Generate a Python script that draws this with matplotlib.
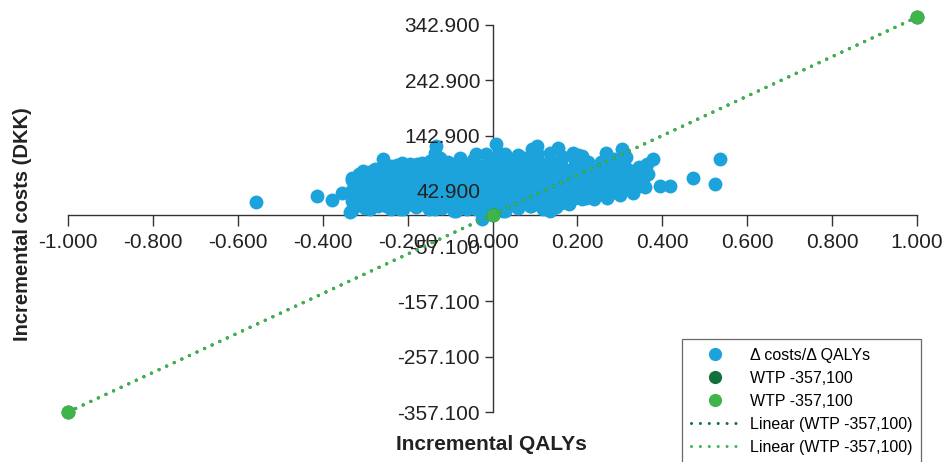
import matplotlib
matplotlib.use("Agg")
import matplotlib.pyplot as plt
from matplotlib.lines import Line2D

plt.rcParams["font.family"] = ["Liberation Sans", "DejaVu Sans"]

# incremental QALYs / incremental costs (thousand DKK)
qaly_left = [-0.557, -0.414, -0.379, -0.355, -0.336, -0.332, -0.306,
             -0.33, -0.33, -0.33, -0.33,
             -0.30, -0.30, -0.30, -0.30, -0.305,
             -0.27, -0.27, -0.27, -0.27, -0.277,
             -0.24, -0.24, -0.24, -0.24, -0.24, -0.258, -0.25, -0.289,
             -0.21, -0.21, -0.21, -0.21, -0.21, -0.214, -0.218,
             -0.18, -0.18, -0.18, -0.18, -0.179,
             -0.15, -0.15, -0.15, -0.15, -0.15, -0.148, -0.136, -0.134,
             -0.12, -0.12, -0.12, -0.12, -0.12, -0.124]
cost_left = [22.8, 33.6, 25.9, 39.6, 5.2, 66.7, 74.0,
             8, 25, 45, 62,
             12, 30, 50, 70, 79,
             15, 35, 55, 75, 82,
             10, 28, 48, 68, 88, 100, 15.6, 9.6,
             10, 28, 48, 68, 85, 94, 9.6,
             14, 32, 52, 72, 91,
             10, 28, 48, 66, 84, 97, 9.6, 124,
             12, 30, 50, 70, 88, 103]

qaly_mid = [-0.09, -0.09, -0.09, -0.09, -0.09, -0.085, -0.077,
            -0.06, -0.06, -0.06, -0.06, -0.06,
            -0.03, -0.03, -0.03, -0.03, -0.03, -0.038, -0.038, -0.024,
            0.0, 0.0, 0.0, 0.0, 0.0, 0.0, 0.008,
            0.03, 0.03, 0.03, 0.03, 0.03, 0.029, 0.025,
            0.06, 0.06, 0.06, 0.06, 0.06, 0.06,
            0.09, 0.09, 0.09, 0.09, 0.09, 0.088, 0.092,
            0.12, 0.12, 0.12, 0.12, 0.12, 0.104, 0.135]
cost_mid = [7, 25, 45, 65, 85, 6.5, 103,
            10, 28, 48, 68, 88,
            9, 27, 47, 67, 87, 109, 9.6, -7.4,
            2, 20, 40, 60, 80, 100, 127,
            7, 25, 45, 65, 85, 109, 6.5,
            12, 30, 50, 70, 90, 108,
            16, 34, 54, 74, 94, 15.6, 118,
            10, 28, 48, 68, 88, 124, 6.5]

qaly_right = [0.15, 0.15, 0.15, 0.15, 0.15, 0.155, 0.162,
              0.18, 0.18, 0.18, 0.18, 0.19,
              0.21, 0.21, 0.21, 0.21, 0.21, 0.202,
              0.24, 0.24, 0.24, 0.24, 0.225, 0.221,
              0.27, 0.27, 0.27, 0.27, 0.268,
              0.30, 0.30, 0.30, 0.30, 0.304,
              0.33, 0.33, 0.33, 0.331,
              0.36, 0.36, 0.363, 0.378, 0.347, 0.367,
              0.394, 0.418, 0.473, 0.524, 0.535]
cost_right = [14, 32, 52, 72, 92, 121, 21.5,
              20, 38, 58, 78, 112,
              28, 46, 66, 86, 106, 108,
              28, 46, 66, 86, 91, 30.6,
              30, 48, 68, 88, 112,
              35, 53, 73, 93, 118,
              45, 58, 78, 39.6,
              50, 70, 91, 100, 55, 73,
              52, 52, 66.7, 55, 100]

# the dense core between the columns above
qaly_core = [-0.315] * 4 + [-0.285] * 4 + [-0.255] * 5 + [-0.225] * 5 \
    + [-0.195] * 5 + [-0.165] * 5 + [-0.135] * 6 + [-0.105] * 5 \
    + [-0.075] * 5 + [-0.045] * 5 + [-0.015] * 6 + [0.015] * 6 \
    + [0.045] * 5 + [0.075] * 5 + [0.105] * 6 + [0.135] * 6 \
    + [0.165] * 5 + [0.195] * 5 + [0.225] * 4 + [0.255] * 4 \
    + [0.285] * 4 + [0.315] * 4 + [0.345] * 3
cost_core = [18, 38, 58, 74,
             22, 42, 62, 78,
             20, 40, 60, 80, 92,
             18, 38, 58, 78, 90,
             20, 40, 60, 80, 92,
             20, 40, 60, 80, 94,
             20, 40, 60, 78, 96, 112,
             18, 38, 58, 78, 96,
             16, 36, 56, 76, 94,
             18, 38, 58, 78, 98,
             10, 30, 50, 70, 90, 110,
             12, 32, 52, 72, 92, 112,
             18, 38, 58, 78, 98,
             22, 42, 62, 82, 102,
             20, 40, 60, 80, 100, 112,
             18, 38, 58, 78, 98, 112,
             26, 44, 64, 84, 104,
             30, 50, 70, 90, 100,
             36, 56, 76, 96,
             38, 56, 76, 96,
             40, 60, 80, 100,
             46, 64, 84, 104,
             52, 72, 86]

incr_qalys = qaly_left + qaly_mid + qaly_right + qaly_core
incr_costs = cost_left + cost_mid + cost_right + cost_core

wtp_qalys = [-1.0, 0.0, 1.0]
wtp_costs = [-357.1, 0.0, 357.1]

x_ticks = [-1.0, -0.8, -0.6, -0.4, -0.2, 0.0, 0.2, 0.4, 0.6, 0.8, 1.0]
x_labels = ["-1.000", "-0.800", "-0.600", "-0.400", "-0.200", "0.000",
            "0.200", "0.400", "0.600", "0.800", "1.000"]
y_ticks = [-357.1, -257.1, -157.1, -57.1, 42.9, 142.9, 242.9, 342.9]
y_labels = ["-357.100", "-257.100", "-157.100", "-57.100", "42.900",
            "142.900", "242.900", "342.900"]

legend_labels = ["\u0394 costs/\u0394 QALYs", "WTP -357,100", "WTP -357,100",
                 "Linear (WTP -357,100)", "Linear (WTP -357,100)"]

blue, dkgreen, ltgreen, axc = "#1ca3dc", "#12703c", "#3fb44b", "#333333"

fig = plt.figure(figsize=(9.46, 4.62), dpi=100)
ax = fig.add_axes([0.0719, 0.1082, 0.8975, 0.8377])

ax.scatter(incr_qalys, incr_costs, s=100, color=blue, linewidths=0, zorder=2)
dots = (0, (0.01, 2.5))
ax.plot(wtp_qalys, wtp_costs, color=dkgreen, lw=2.4, ls=dots,
        dash_capstyle="round", zorder=3, clip_on=False)
ax.plot(wtp_qalys, wtp_costs, color=ltgreen, lw=2.4, ls=dots,
        dash_capstyle="round", zorder=3, clip_on=False)
ax.scatter(wtp_qalys, wtp_costs, s=100, color=dkgreen, linewidths=0,
           zorder=4, clip_on=False)
ax.scatter(wtp_qalys, wtp_costs, s=100, color=ltgreen, linewidths=0,
           zorder=4, clip_on=False)

ax.set_xlim(-1.0, 1.0)
ax.set_ylim(-357.1, 342.9)
ax.spines["left"].set_position(("data", 0))
ax.spines["bottom"].set_position(("data", 0))
ax.spines["top"].set_visible(False)
ax.spines["right"].set_visible(False)
for s in ("left", "bottom"):
    ax.spines[s].set_color(axc)
    ax.spines[s].set_linewidth(1.0)
    ax.spines[s].set_zorder(1)

ax.set_xticks(x_ticks, x_labels)
ax.set_yticks(y_ticks, y_labels)
ax.tick_params(axis="x", direction="out", length=8, width=1.0, color=axc,
               labelsize=15, pad=5, labelcolor="#222222")
ax.tick_params(axis="y", direction="out", length=6, width=1.0, color=axc,
               labelsize=15, pad=3, labelcolor="#222222")
# tick labels sit on top of the cloud (the 42.900 label reads over the dots)
ax.xaxis.set_zorder(2.5)
ax.yaxis.set_zorder(2.5)
ax.yaxis.get_major_ticks()[4].tick1line.set_visible(False)
ax.xaxis.get_major_ticks()[5].tick1line.set_visible(False)
ax.patch.set_visible(False)

fig.text(0.52, 0.037, "Incremental QALYs", ha="center", va="center",
         fontsize=15, fontweight="bold", color="#222222")
fig.text(0.024, 0.515, "Incremental costs (DKK)", ha="center", va="center",
         rotation=90, fontsize=14.5, fontweight="bold", color="#222222")

handles = [
    Line2D([], [], ls="none", marker="o", ms=8.5, mfc=blue, mec=blue),
    Line2D([], [], ls="none", marker="o", ms=8.5, mfc=dkgreen, mec=dkgreen),
    Line2D([], [], ls="none", marker="o", ms=8.5, mfc=ltgreen, mec=ltgreen),
    Line2D([], [], color=dkgreen, lw=2.2, ls=(0, (0.01, 2.9)), dash_capstyle="round"),
    Line2D([], [], color=ltgreen, lw=2.2, ls=(0, (0.01, 2.9)), dash_capstyle="round"),
]
leg = fig.legend(handles, legend_labels, loc="upper left",
                 bbox_to_anchor=(682 / 946, 1 - 339 / 462),
                 frameon=True, fancybox=False, fontsize=11.5,
                 handlelength=3.0, handletextpad=0.7, labelspacing=0.5,
                 borderpad=0.55, borderaxespad=0.0)
leg.get_frame().set_edgecolor("#444444")
leg.get_frame().set_linewidth(0.9)

fig.savefig("out.png", dpi=100)
